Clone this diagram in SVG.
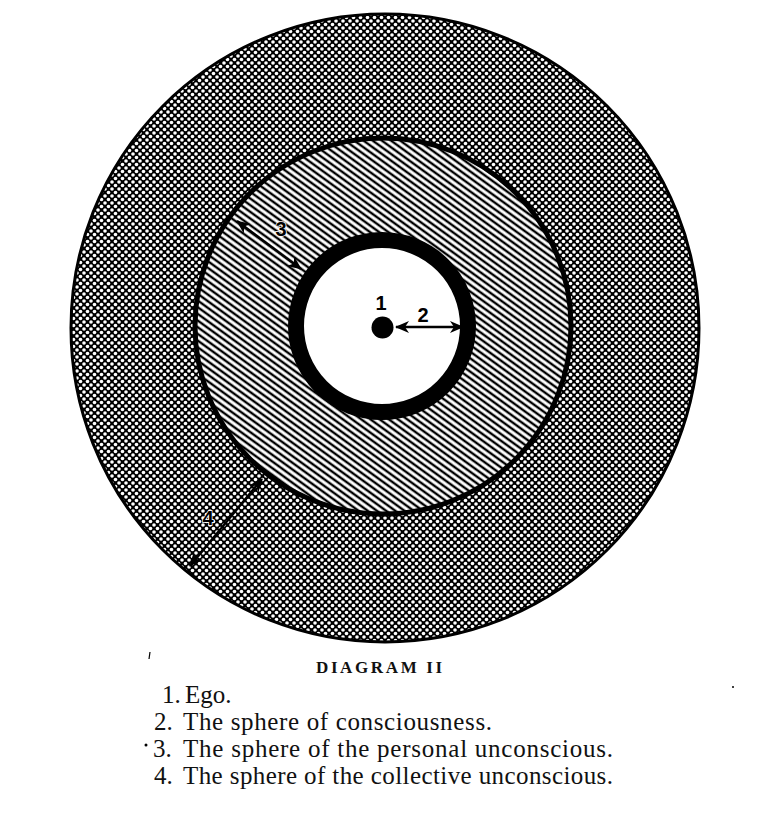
<svg xmlns="http://www.w3.org/2000/svg" width="766" height="816" viewBox="0 0 766 816">
  <style>
    .lbl { font-family: "Liberation Sans", "DejaVu Sans", sans-serif; font-weight: bold; font-size: 20px; fill: #000; }
    .cap { font-family: "Liberation Serif", "DejaVu Serif", serif; font-size: 25px; fill: #111; }
    .title { font-family: "Liberation Serif", "DejaVu Serif", serif; font-weight: bold; font-size: 17px; fill: #111; }
    .conn { stroke: #000; stroke-width: 2.4; fill: none; marker-start: url(#head); marker-end: url(#head); }
  </style>
  <defs>
    <pattern id="cross" width="7" height="7" patternUnits="userSpaceOnUse">
      <rect width="7" height="7" fill="#000"/>
      <circle cx="0" cy="0" r="1.8" fill="#fff"/>
      <circle cx="7" cy="0" r="1.8" fill="#fff"/>
      <circle cx="0" cy="7" r="1.8" fill="#fff"/>
      <circle cx="7" cy="7" r="1.8" fill="#fff"/>
      <circle cx="3.5" cy="3.5" r="1.8" fill="#fff"/>
    </pattern>
    <pattern id="hatch" width="10" height="5.4" patternUnits="userSpaceOnUse" patternTransform="rotate(36)">
      <rect width="10" height="5.4" fill="#fff"/>
      <line x1="0" y1="2.7" x2="10" y2="2.7" stroke="#000" stroke-width="2.4"/>
    </pattern>
    <marker id="head" viewBox="0 0 14 12" refX="13" refY="6" markerWidth="14" markerHeight="12" markerUnits="userSpaceOnUse" orient="auto-start-reverse">
      <path d="M0,0 L14,6 L0,12 L4,6 Z" fill="#000"/>
    </marker>
  </defs>

  <g id="collective">
    <circle cx="385" cy="328" r="314" fill="url(#cross)" stroke="#000" stroke-width="3"/>
  </g>
  <g id="personal">
    <circle cx="383" cy="326" r="188" fill="url(#hatch)" stroke="#000" stroke-width="5"/>
    <text class="lbl" x="281" y="236" text-anchor="middle" stroke="#fff" stroke-width="1.5" paint-order="stroke">3</text>
  </g>
  <g id="consciousness">
    <circle cx="382" cy="326" r="86" fill="#fff" stroke="#000" stroke-width="16"/>
    <text class="lbl" x="423" y="322" text-anchor="middle">2</text>
  </g>
  <g id="ego">
    <circle cx="382.5" cy="327.5" r="11" fill="#000"/>
    <text class="lbl" x="381" y="310" text-anchor="middle">1</text>
  </g>
  <g id="label4">
    <text class="lbl" x="208" y="525" text-anchor="middle" stroke="#fff" stroke-width="1.5" paint-order="stroke">4</text>
  </g>

  <g id="connectors">
    <line class="conn" x1="396" y1="327" x2="463" y2="327"/>
    <line class="conn" x1="237" y1="221" x2="301" y2="269"/>
    <line class="conn" x1="262" y1="479" x2="190" y2="566"/>
  </g>

  <g id="caption">
    <text class="title" x="316" y="673" textLength="126" lengthAdjust="spacing">DIAGRAM II</text>
    <text class="cap" x="162" y="703">1.</text>
    <text class="cap" x="185" y="703">Ego.</text>
    <text class="cap" x="154" y="730">2.</text>
    <text class="cap" x="183" y="730" textLength="309" lengthAdjust="spacing">The sphere of consciousness.</text>
    <text class="cap" x="153" y="757">3.</text>
    <text class="cap" x="183" y="757" textLength="430" lengthAdjust="spacing">The sphere of the personal unconscious.</text>
    <text class="cap" x="154" y="784">4.</text>
    <text class="cap" x="183" y="784" textLength="430" lengthAdjust="spacing">The sphere of the collective unconscious.</text>
  </g>
  <g id="specks">
    <line x1="150" y1="652" x2="149" y2="659" stroke="#000" stroke-width="1.2"/>
    <circle cx="146" cy="745" r="1.5" fill="#000"/>
    <circle cx="733" cy="687" r="1" fill="#000"/>
  </g>
</svg>
